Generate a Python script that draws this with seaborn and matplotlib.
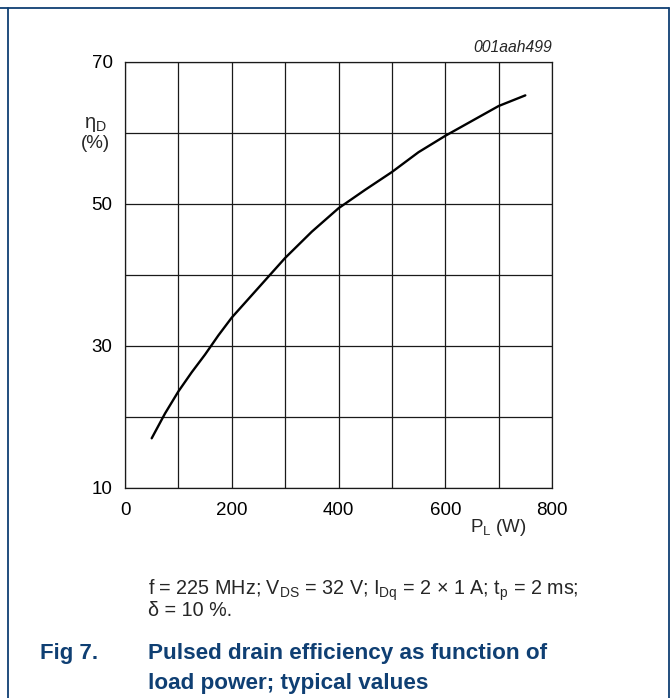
import matplotlib
matplotlib.use("Agg")
import matplotlib.pyplot as plt
import seaborn as sns
import pandas as pd
from matplotlib.lines import Line2D

# data
load_power = [50, 75, 100, 125, 150, 175, 200, 250, 300, 350, 400, 450, 500, 550, 600, 650, 700, 750]
efficiency = [17.0, 20.5, 23.6, 26.3, 28.8, 31.5, 34.0, 38.2, 42.4, 46.1, 49.4, 52.0, 54.5, 57.3, 59.6, 61.7, 63.8, 65.3]
x_ticks = [0, 200, 400, 600, 800]
y_ticks = [10, 30, 50, 70]

df = pd.DataFrame({"PL": load_power, "eta": efficiency})

sns.set_style("white")
plt.rcParams["font.family"] = ["Liberation Sans", "DejaVu Sans"]
plt.rcParams["mathtext.fontset"] = "custom"
plt.rcParams["mathtext.rm"] = "Liberation Sans"
plt.rcParams["mathtext.it"] = "Liberation Sans:italic"
plt.rcParams["mathtext.bf"] = "Liberation Sans:bold"

W, H = 670, 698
fig = plt.figure(figsize=(W / 100, H / 100), dpi=100)
ax = fig.add_axes([125 / W, 1 - 488 / H, (552 - 125) / W, (488 - 62) / H])

sns.lineplot(data=df, x="PL", y="eta", ax=ax, color="black", linewidth=1.7)

ax.set_xlim(0, 800)
ax.set_ylim(10, 70)
ax.set_xticks(range(0, 801, 100))
ax.set_yticks(range(10, 71, 10))
ax.set_xticklabels([str(v) if v in x_ticks else "" for v in range(0, 801, 100)])
ax.set_yticklabels([str(v) if v in y_ticks else "" for v in range(10, 71, 10)])
ax.grid(True, color="#1a1a1a", linewidth=0.9)
for s in ax.spines.values():
    s.set_color("#1a1a1a")
    s.set_linewidth(0.9)
ax.tick_params(axis="y", length=0, labelsize=13.5, colors="black", pad=9)
ax.tick_params(axis="x", length=0, labelsize=13.5, colors="black", pad=10)
ax.set_xlabel("")
ax.set_ylabel("")

# axis titles
fig.text(95 / W, 1 - 125 / H, r"$\mathrm{\eta_D}$", ha="center", va="center", fontsize=14.5)
fig.text(95 / W, 1 - 144 / H, "(%)", ha="center", va="center", fontsize=13.5)
fig.text(498 / W, 1 - 528 / H, r"P$_\mathrm{L}$ (W)", ha="center", va="center", fontsize=13.5)
fig.text(552 / W, 1 - 48 / H, "001aah499", ha="right", va="center", fontsize=11.3, style="italic")

# caption
fig.text(148 / W, 1 - 590 / H,
         r"f = 225 MHz; V$_\mathrm{DS}$ = 32 V; I$_\mathrm{Dq}$ = 2 × 1 A; t$_\mathrm{p}$ = 2 ms;",
         ha="left", va="center", fontsize=14.2)
fig.text(148 / W, 1 - 611 / H, "δ = 10 %.", ha="left", va="center", fontsize=14.2)

blue = "#0f3f73"
fig.text(40 / W, 1 - 653 / H, "Fig 7.", ha="left", va="center", fontsize=16,
         fontweight="bold", color=blue)
fig.text(148 / W, 1 - 653 / H, "Pulsed drain efficiency as function of", ha="left",
         va="center", fontsize=16.2, fontweight="bold", color=blue)
fig.text(148 / W, 1 - 684 / H, "load power; typical values", ha="left",
         va="center", fontsize=16.2, fontweight="bold", color=blue)

# frame
top = 1 - 8 / H
fig.add_artist(Line2D([0, 668.5 / W], [top, top], color=blue, linewidth=1.3, transform=fig.transFigure))
fig.add_artist(Line2D([8 / W, 8 / W], [0, top], color=blue, linewidth=1.3, transform=fig.transFigure))
fig.add_artist(Line2D([668.5 / W, 668.5 / W], [0, top], color=blue, linewidth=1.3, transform=fig.transFigure))

fig.savefig("out.png", dpi=100)
